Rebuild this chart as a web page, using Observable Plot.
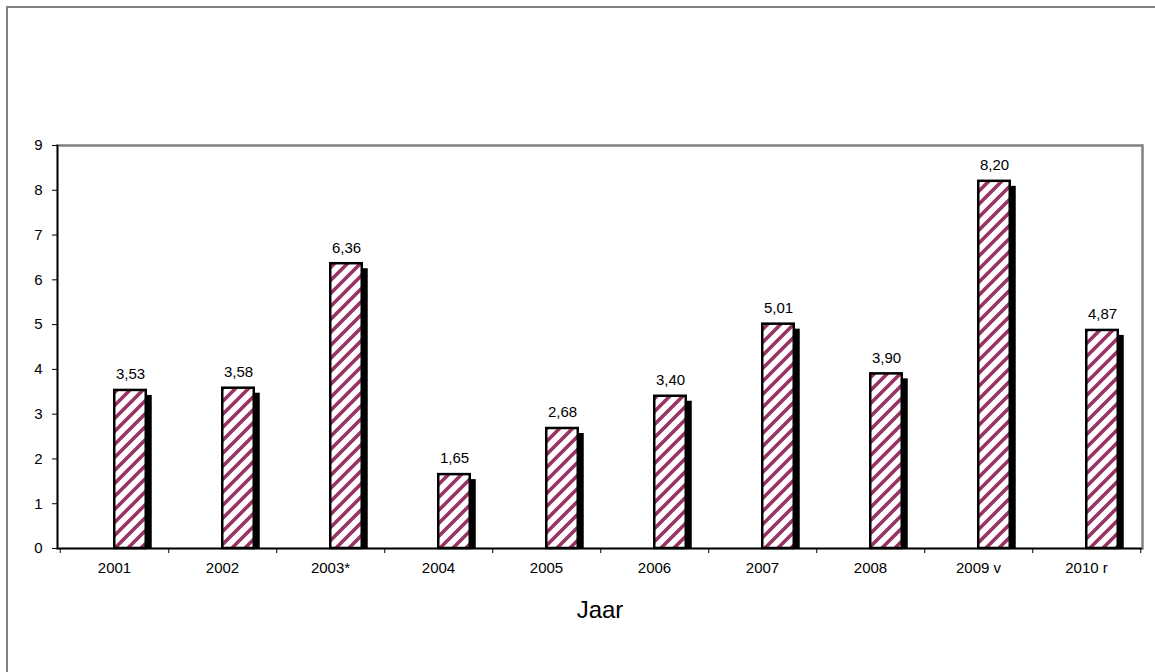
<!DOCTYPE html>
<html>
<head>
<meta charset="utf-8">
<script src="https://cdn.jsdelivr.net/npm/d3@7"></script>
<script src="https://cdn.jsdelivr.net/npm/@observablehq/plot@0.6"></script>
<style>
  html, body { margin: 0; padding: 0; background: #fff; overflow: hidden; }
  #wrap { position: relative; width: 1155px; height: 672px; }
  #outer { position: absolute; left: 6px; top: 6px; width: 1300px; height: 800px;
           border-left: 2px solid #808080; border-top: 2px solid #808080; pointer-events: none; }
  #chart { position: absolute; left: 0; top: 0; }
</style>
</head>
<body>
<div id="wrap"><div id="chart"></div><div id="outer"></div></div>
<script>
const categories = ["2001", "2002", "2003*", "2004", "2005", "2006", "2007", "2008", "2009 v", "2010 r"];
const values = [3.53, 3.58, 6.36, 1.65, 2.68, 3.40, 5.01, 3.90, 8.20, 4.87];
const yTicks = [0, 1, 2, 3, 4, 5, 6, 7, 8, 9];
const xTitle = "Jaar";

const data = categories.map((c, i) => ({cat: c, value: values[i], label: values[i].toFixed(2).replace(".", ",")}));

const half = (1155 - 57 - 13) / 20; // half band width

const chart = Plot.plot({
  width: 1155,
  height: 672,
  marginLeft: 57,
  marginRight: 13,
  marginTop: 145,
  marginBottom: 124,
  style: {fontFamily: "'Liberation Sans', Arial, sans-serif", fontSize: "15px", background: "transparent", color: "black"},
  x: {domain: categories, padding: 0, label: null},
  y: {domain: [0, 9], label: null},
  marks: [
    Plot.frame({stroke: "#808080", strokeWidth: 2.5}),
    Plot.barY(data, {x: "cat", y: "value", fill: "black", insetLeft: half, insetRight: half - 32, insetBottom: 5, dx: 6, dy: 5}),
    Plot.barY(data, {x: "cat", y: "value", fill: "url(#stripes)", stroke: "black", strokeWidth: 2.5, insetLeft: half, insetRight: half - 32}),
    Plot.text(data, {x: "cat", y: "value", text: "label", dx: 16, dy: -16, fontSize: 15, fill: "black"}),
    Plot.ruleY([0], {stroke: "black", strokeWidth: 1.5}),
    Plot.frame({anchor: "left", stroke: "black", strokeWidth: 1.5}),
    Plot.axisY({ticks: yTicks, tickSize: 5, tickPadding: 10, fontSize: 15, label: null, tickFormat: d => String(d)}),
    Plot.axisX({tickSize: 0, tickPadding: 14, fontSize: 15, label: null}),
    Plot.axisX({tickSize: 5, tickFormat: () => "", dx: half, label: null}),
    Plot.axisX({ticks: [categories[0]], tickSize: 5, tickFormat: () => "", dx: -half, label: null}),
    Plot.text([xTitle], {text: d => d, frameAnchor: "bottom", lineAnchor: "middle", dy: 62, fontSize: 24, fill: "black"})
  ]
});

chart.insertAdjacentHTML("afterbegin",
  '<defs><pattern id="stripes" patternUnits="userSpaceOnUse" width="13" height="13">' +
  '<rect width="13" height="13" fill="white"/>' +
  '<path d="M0,13 L13,0 M-3,3 L3,-3 M10,16 L16,10" stroke="#993366" stroke-width="3.6"/>' +
  '</pattern></defs>');

document.getElementById("chart").appendChild(chart);
</script>
</body>
</html>
